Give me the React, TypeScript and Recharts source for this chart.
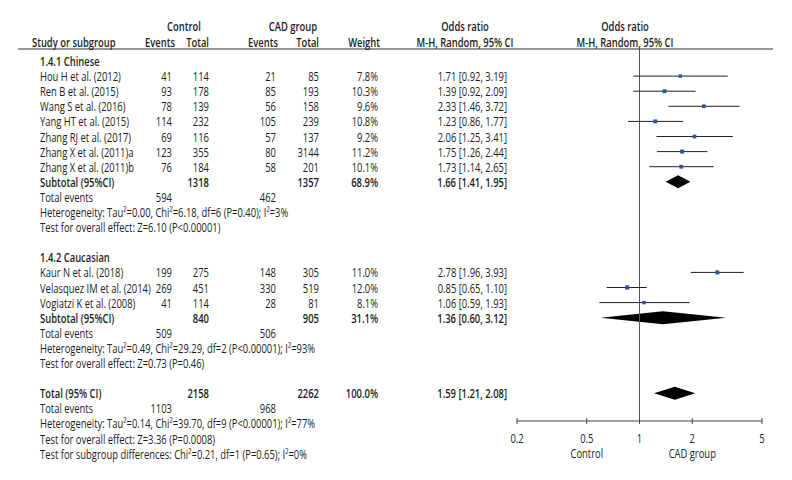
import React from "react";
import {
  ComposedChart,
  ReferenceArea,
  ReferenceLine,
  Scatter,
  XAxis,
  YAxis,
} from "recharts";

// individual studies
const studyNames = [
  "Hou H et al. (2012)",
  "Ren B et al. (2015)",
  "Wang S et al. (2016)",
  "Yang HT et al. (2015)",
  "Zhang RJ et al. (2017)",
  "Zhang X et al. (2011)a",
  "Zhang X et al. (2011)b",
  "Kaur N et al. (2018)",
  "Velasquez IM et al. (2014)",
  "Vogiatzi K et al. (2008)",
];
const studyGroup = [0, 0, 0, 0, 0, 0, 0, 1, 1, 1];
const controlEvents = [41, 93, 78, 114, 69, 123, 76, 199, 269, 41];
const controlTotals = [114, 178, 139, 232, 116, 355, 184, 275, 451, 114];
const cadEvents = [21, 85, 56, 105, 57, 80, 58, 148, 330, 28];
const cadTotals = [85, 193, 158, 239, 137, 3144, 201, 305, 519, 81];
const weights = [7.8, 10.3, 9.6, 10.8, 9.2, 11.2, 10.1, 11.0, 12.0, 8.1];
const oddsRatios = [1.71, 1.39, 2.33, 1.23, 2.06, 1.75, 1.73, 2.78, 0.85, 1.06];
const ciLow = [0.92, 0.92, 1.46, 0.86, 1.25, 1.26, 1.14, 1.96, 0.65, 0.59];
const ciHigh = [3.19, 2.09, 3.72, 1.77, 3.41, 2.44, 2.65, 3.93, 1.1, 1.93];

// subgroups
const groupNames = ["1.4.1 Chinese", "1.4.2 Caucasian"];
const groupControlTotals = [1318, 840];
const groupCadTotals = [1357, 905];
const groupWeights = [68.9, 31.1];
const groupOR = [1.66, 1.36];
const groupLow = [1.41, 0.6];
const groupHigh = [1.95, 3.12];
const groupControlEvents = [594, 509];
const groupCadEvents = [462, 506];
const groupHeterogeneity = [
  "Heterogeneity: Tau²=0.00, Chi²=6.18, df=6 (P=0.40); I²=3%",
  "Heterogeneity: Tau²=0.49, Chi²=29.29, df=2 (P<0.00001); I²=93%",
];
const groupEffect = [
  "Test for overall effect: Z=6.10 (P<0.00001)",
  "Test for overall effect: Z=0.73 (P=0.46)",
];

// overall
const totalControl = 2158;
const totalCad = 2262;
const totalWeight = 100.0;
const totalOR = 1.59;
const totalLow = 1.21;
const totalHigh = 2.08;
const totalControlEvents = 1103;
const totalCadEvents = 968;
const totalNotes = [
  "Heterogeneity: Tau²=0.14, Chi²=39.70, df=9 (P<0.00001); I²=77%",
  "Test for overall effect: Z=3.36 (P=0.0008)",
  "Test for subgroup differences: Chi²=0.21, df=1 (P=0.65); I²=0%",
];

const axisTicks = [0.2, 0.5, 1, 2, 5];

// layout
const W = 792;
const H = 480;
const ROW0_Y = 61;
const ROW_H = 15.1;
const PLOT_TOP = 49;
const PLOT_BOTTOM = 421;
const PLOT_LEFT = 517;
const PLOT_RIGHT = 762;
const FONT = "'Open Sans', sans-serif";
const FS = 12;
const SX = 0.785; // squeeze to mimic a condensed face
const INK = "#1c1c1c";
const COL = { label: 40, ce: 172, ct: 209, ae: 276, at: 319, w: 378, or: 507 };

interface TableRow {
  row: number;
  label: string;
  bold?: boolean;
  ce?: number;
  ct?: number;
  ae?: number;
  at?: number;
  w?: string;
  or?: string;
}

const fmtCI = (o: number, l: number, h: number) =>
  `${o.toFixed(2)} [${l.toFixed(2)}, ${h.toFixed(2)}]`;

const tableRows: TableRow[] = [];
const studyPoints: { x: number; y: number; w: number; lo: number; hi: number }[] = [];
const diamonds: { row: number; est: number; lo: number; hi: number }[] = [];

let r = 0;
groupNames.forEach((g, gi) => {
  tableRows.push({ row: r++, label: g, bold: true });
  studyNames.forEach((name, i) => {
    if (studyGroup[i] !== gi) return;
    tableRows.push({
      row: r,
      label: name,
      ce: controlEvents[i],
      ct: controlTotals[i],
      ae: cadEvents[i],
      at: cadTotals[i],
      w: `${weights[i].toFixed(1)}%`,
      or: fmtCI(oddsRatios[i], ciLow[i], ciHigh[i]),
    });
    studyPoints.push({ x: oddsRatios[i], y: r, w: weights[i], lo: ciLow[i], hi: ciHigh[i] });
    r++;
  });
  tableRows.push({
    row: r,
    label: "Subtotal (95%CI)",
    bold: true,
    ct: groupControlTotals[gi],
    at: groupCadTotals[gi],
    w: `${groupWeights[gi].toFixed(1)}%`,
    or: fmtCI(groupOR[gi], groupLow[gi], groupHigh[gi]),
  });
  diamonds.push({ row: r, est: groupOR[gi], lo: groupLow[gi], hi: groupHigh[gi] });
  r++;
  tableRows.push({ row: r++, label: "Total events", ce: groupControlEvents[gi], ae: groupCadEvents[gi] });
  tableRows.push({ row: r++, label: groupHeterogeneity[gi] });
  tableRows.push({ row: r++, label: groupEffect[gi] });
  r++;
});
tableRows.push({
  row: r,
  label: "Total (95% CI)",
  bold: true,
  ct: totalControl,
  at: totalCad,
  w: `${totalWeight.toFixed(1)}%`,
  or: fmtCI(totalOR, totalLow, totalHigh),
});
diamonds.push({ row: r, est: totalOR, lo: totalLow, hi: totalHigh });
r++;
tableRows.push({ row: r++, label: "Total events", ce: totalControlEvents, ae: totalCadEvents });
totalNotes.forEach((n) => tableRows.push({ row: r++, label: n }));

const yDomain = [(PLOT_TOP - ROW0_Y) / ROW_H, (PLOT_BOTTOM - ROW0_Y) / ROW_H];
const rowY = (row: number) => ROW0_Y + row * ROW_H;

const Square = (props: any) => {
  const { cx, cy, payload } = props;
  const s = 2 + payload.w * 0.18;
  return <rect x={cx - s / 2} y={cy - s / 2} width={s} height={s} fill="#2c54a3" />;
};

const makeDiamond = (d: { est: number; lo: number; hi: number }) => (props: any) => {
  const { x, y, width, height } = props;
  const t = (Math.log(d.est) - Math.log(d.lo)) / (Math.log(d.hi) - Math.log(d.lo));
  const mx = x + width * t;
  const my = y + height / 2;
  return (
    <polygon
      points={`${x},${my} ${mx},${y} ${x + width},${my} ${mx},${y + height}`}
      fill="#000"
    />
  );
};

const Txt = ({ x, y, anchor = "start", bold = false, children }: any) => (
  <text
    transform={`translate(${x},${y}) scale(${SX},1)`}
    textAnchor={anchor}
    dominantBaseline="central"
    fontWeight={bold ? 600 : "normal"}
  >
    {children}
  </text>
);

const AxisTick = (props: any) => {
  const { x, y, payload } = props;
  const v = payload.value;
  return (
    <g fontFamily={FONT} fontSize={FS} fill="#222">
      <line x1={x} x2={x} y1={y - 3} y2={y + 3} stroke="#444" />
      <Txt x={x} y={y + 17} anchor="middle">{v}</Txt>
      {v === 0.5 && <Txt x={x} y={y + 32} anchor="middle">Control</Txt>}
      {v === 2 && <Txt x={x} y={y + 32} anchor="middle">CAD group</Txt>}
    </g>
  );
};

const Table = () => (
  <svg
    width={W}
    height={H}
    style={{ position: "absolute", left: 0, top: 0, pointerEvents: "none" }}
    fontFamily={FONT}
    fontSize={FS}
    fill={INK}
  >
    <Txt x={184} y={26} anchor="middle" bold>Control</Txt>
    <Txt x={293} y={26} anchor="middle" bold>CAD group</Txt>
    <Txt x={465} y={26} anchor="middle" bold>Odds ratio</Txt>
    <Txt x={625} y={26} anchor="middle" bold>Odds ratio</Txt>
    <Txt x={32} y={42} bold>Study or subgroup</Txt>
    <Txt x={175} y={42} anchor="end" bold>Events</Txt>
    <Txt x={209} y={42} anchor="end" bold>Total</Txt>
    <Txt x={278} y={42} anchor="end" bold>Events</Txt>
    <Txt x={319} y={42} anchor="end" bold>Total</Txt>
    <Txt x={380} y={42} anchor="end" bold>Weight</Txt>
    <Txt x={465} y={42} anchor="middle" bold>M-H, Random, 95% CI</Txt>
    <Txt x={625} y={42} anchor="middle" bold>M-H, Random, 95% CI</Txt>
    <line x1={18} x2={773} y1={PLOT_TOP} y2={PLOT_TOP} stroke="#333" strokeWidth={1} />
    {tableRows.map((t) => {
      const y = rowY(t.row);
      return (
        <g key={t.row}>
          <Txt x={COL.label} y={y} bold={t.bold}>{t.label}</Txt>
          {t.ce !== undefined && <Txt x={COL.ce} y={y} anchor="end" bold={t.bold}>{t.ce}</Txt>}
          {t.ct !== undefined && <Txt x={COL.ct} y={y} anchor="end" bold={t.bold}>{t.ct}</Txt>}
          {t.ae !== undefined && <Txt x={COL.ae} y={y} anchor="end" bold={t.bold}>{t.ae}</Txt>}
          {t.at !== undefined && <Txt x={COL.at} y={y} anchor="end" bold={t.bold}>{t.at}</Txt>}
          {t.w !== undefined && <Txt x={COL.w} y={y} anchor="end" bold={t.bold}>{t.w}</Txt>}
          {t.or !== undefined && <Txt x={COL.or} y={y} anchor="end" bold={t.bold}>{t.or}</Txt>}
        </g>
      );
    })}
  </svg>
);

export default function App() {
  return (
    <div style={{ position: "absolute", left: 0, top: 0, width: W, height: H, background: "#fff" }}>
      <ComposedChart
        width={W}
        height={H}
        margin={{ top: PLOT_TOP, right: W - PLOT_RIGHT, bottom: 0, left: PLOT_LEFT }}
      >
        <XAxis
          type="number"
          dataKey="x"
          scale="log"
          domain={[0.2, 5]}
          ticks={axisTicks}
          allowDataOverflow
          height={H - PLOT_BOTTOM}
          tickLine={false}
          tickSize={0}
          tickMargin={0}
          axisLine={{ stroke: "#444" }}
          tick={<AxisTick />}
        />
        <YAxis type="number" dataKey="y" domain={yDomain} reversed hide width={0} />
        <ReferenceLine x={1} stroke="#555" strokeWidth={1} />
        {studyPoints.map((p, i) => (
          <ReferenceLine
            key={`ci-${i}`}
            segment={[
              { x: p.lo, y: p.y },
              { x: p.hi, y: p.y },
            ]}
            stroke="#222"
            strokeWidth={1}
          />
        ))}
        {diamonds.map((d, i) => (
          <ReferenceArea
            key={`d-${i}`}
            x1={d.lo}
            x2={d.hi}
            y1={d.row - 0.43}
            y2={d.row + 0.43}
            shape={makeDiamond(d)}
          />
        ))}
        <Scatter data={studyPoints} shape={<Square />} isAnimationActive={false} />
      </ComposedChart>
      <Table />
    </div>
  );
}
